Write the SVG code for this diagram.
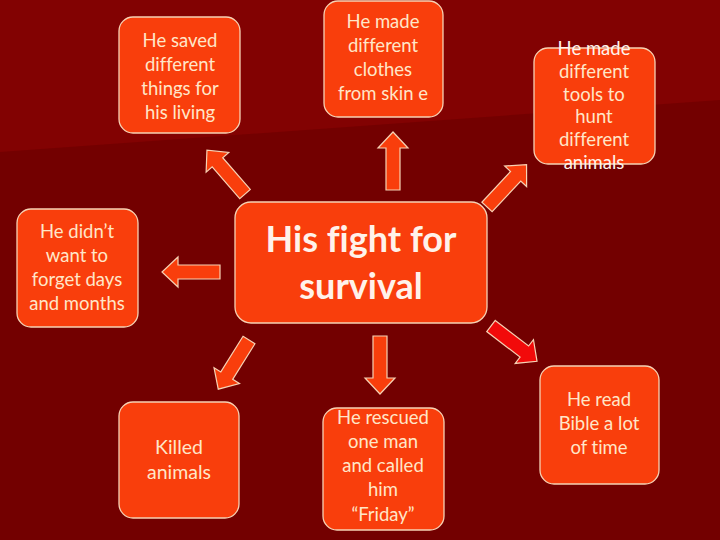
<svg xmlns="http://www.w3.org/2000/svg" xmlns:xlink="http://www.w3.org/1999/xlink" width="720" height="540" viewBox="0 0 720 540">
<style>
text{font-variant-ligatures:none;font-feature-settings:"liga" 0,"dlig" 0}
.box{fill:#F93E0C;stroke:#F6D2B4;stroke-width:1.3}
.t{font-family:Lato,"Liberation Sans",sans-serif;font-size:18.5px;fill:#FFE6C8;text-anchor:middle}
.big{font-family:Lato,"Liberation Sans",sans-serif;font-size:36px;font-weight:bold;fill:#FFF2EA;text-anchor:middle}
.arr{fill:#F93E0C;stroke:#F6D2B4;stroke-width:1.2;stroke-linejoin:miter}
.arr2{fill:#F20A0A;stroke:#F6D2B4;stroke-width:1.2}
</style>
<defs>
<path id="a" d="M0,-7 H42 V-15 L58,0 L42,15 V7 H0 Z"/>
</defs>
<rect width="720" height="540" fill="#730000"/>
<polygon points="0,0 720,0 720,100 0,152" fill="#820202"/>
<g id="connectors">
<use href="#a" class="arr" transform="translate(393,190) rotate(-90)"/>
<use href="#a" class="arr" transform="translate(245,194) rotate(-131)"/>
<use href="#a" class="arr" transform="translate(487,207) rotate(-47)"/>
<use href="#a" class="arr" transform="translate(220,272) rotate(180)"/>
<use href="#a" class="arr" transform="translate(249,340) rotate(122)"/>
<use href="#a" class="arr" transform="translate(380,336) rotate(90)"/>
<use href="#a" class="arr2" transform="translate(491,326) rotate(37.5)"/>
</g>
<g id="center">
<rect class="box" x="235" y="202" width="252" height="121" rx="16"/>
<text class="big" x="361" y="252">His fight for</text>
<text class="big" x="361" y="299">survival</text>
</g>
<g id="n1">
<rect class="box" x="119" y="17" width="121" height="116" rx="14"/>
<text class="t" x="180" y="47">He saved</text>
<text class="t" x="180" y="71">different</text>
<text class="t" x="180" y="95">things for</text>
<text class="t" x="180" y="119">his living</text>
</g>
<g id="n2">
<rect class="box" x="324" y="1" width="119" height="116" rx="14"/>
<text class="t" x="383" y="28">He made</text>
<text class="t" x="383" y="52">different</text>
<text class="t" x="383" y="76">clothes</text>
<text class="t" x="383" y="100">from skin e</text>
</g>
<g id="n3">
<rect class="box" x="534" y="48" width="121" height="116" rx="14"/>
<text class="t" x="594" y="55" style="fill:#FFF4EC">He made</text>
<text class="t" x="594" y="78">different</text>
<text class="t" x="594" y="101">tools to</text>
<text class="t" x="594" y="123">hunt</text>
<text class="t" x="594" y="146">different</text>
<text class="t" x="594" y="169" style="fill:#FFF4EC">animals</text>
</g>
<g id="n4">
<rect class="box" x="17" y="209" width="121" height="118" rx="14"/>
<text class="t" x="77" y="238">He didn’t</text>
<text class="t" x="77" y="262">want to</text>
<text class="t" x="77" y="286">forget days</text>
<text class="t" x="77" y="310">and months</text>
</g>
<g id="n5">
<rect class="box" x="119" y="402" width="120" height="116" rx="14"/>
<text class="t" x="179" y="454" style="font-size:19.5px">Killed</text>
<text class="t" x="179" y="479" style="font-size:19.5px">animals</text>
</g>
<g id="n6">
<rect class="box" x="323" y="408" width="121" height="122" rx="14"/>
<text class="t" x="383" y="424">He rescued</text>
<text class="t" x="383" y="448">one man</text>
<text class="t" x="383" y="472">and called</text>
<text class="t" x="383" y="496">him</text>
<text class="t" x="383" y="521">“Friday”</text>
</g>
<g id="n7">
<rect class="box" x="540" y="366" width="119" height="118" rx="14"/>
<text class="t" x="599" y="406">He read</text>
<text class="t" x="599" y="430">Bible a lot</text>
<text class="t" x="599" y="454">of time</text>
</g>
</svg>
